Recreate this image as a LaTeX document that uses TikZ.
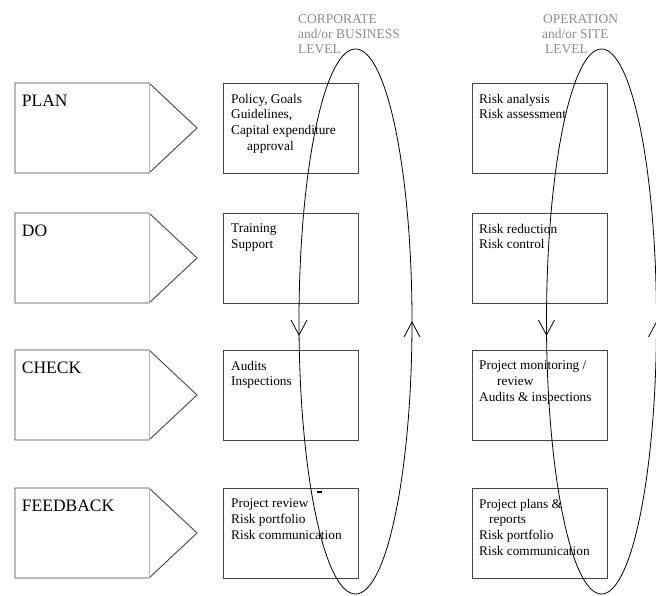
\documentclass[tikz,border=0pt]{standalone}
\usepackage{fontspec}
\setmainfont{Liberation Serif}
\usetikzlibrary{calc,shapes.geometric}

\definecolor{boxline}{HTML}{454545}
\definecolor{divline}{HTML}{B4B4B4}
\definecolor{levelgray}{HTML}{8C8C8C}

\tikzset{
  stage/.style={rectangle, minimum width=134pt, minimum height=90pt, inner sep=0pt, outer sep=0pt},
  stageedge/.style={draw=boxline, line width=0.9pt, line join=miter},
  stagediv/.style={draw=divline, line width=0.9pt},
  infobox/.style={draw=boxline, line width=0.9pt, rectangle, minimum width=135pt, minimum height=90pt, inner sep=0pt, outer sep=0pt},
  boxtext/.style={anchor=north west, inner sep=0pt, align=left, font=\fontsize{13.3}{15.8}\selectfont},
  stagetext/.style={anchor=north west, inner sep=0pt, font=\fontsize{17.5}{20}\selectfont},
  leveltext/.style={anchor=north west, inner sep=0pt, align=left, text=levelgray, font=\fontsize{13.5}{15}\selectfont},
  cycleloop/.style={draw=black, line width=0.8pt, ellipse, inner sep=0pt, outer sep=0pt},
  barb/.style={draw=black, line width=0.8pt},
}

\begin{document}
\begin{tikzpicture}[x=1pt,y=-1pt]
\useasboundingbox (0,0) rectangle (656,595);
\clip (0,0) rectangle (656,595);

% level headings
\node[leveltext] (corplabel) at (298,14.4) {CORPORATE\\and/or BUSINESS\\LEVEL};
\node[leveltext] (oplabel) at (542,14.4) {\hspace*{1pt}OPERATION\\and/or SITE\\\hspace*{3pt}LEVEL};

% PDCA stages (pentagon arrows)
\foreach \nm/\yc/\lbl in {plan/128/PLAN, do/258/DO, check/395/CHECK, feedback/533/FEEDBACK}{
  \node[stage] (\nm) at (82,\yc) {};
  \draw[stageedge] (\nm.north east) -- (\nm.north west) -- (\nm.south west)
        -- (\nm.south east) -- ($(\nm.east)+(48,0)$) -- (\nm.north east);
  \draw[stagediv] (\nm.north east) -- (\nm.south east);
  \node[stagetext] (\nm txt) at ($(\nm.north west)+(6.7,12)$) {\lbl};
}

% corporate / business level boxes
\node[infobox] (cplan) at (290.5,128) {};
\node[infobox] (cdo) at (290.5,258) {};
\node[infobox] (ccheck) at (290.5,395) {};
\node[infobox] (cfeed) at (290.5,533) {};
\node[boxtext] (cplantxt) at ($(cplan.north west)+(8,10.6)$)
  {Policy, Goals\\Guidelines,\\Capital expenditure\\\hspace*{16pt}approval};
\node[boxtext] (cdotxt) at ($(cdo.north west)+(8,10.6)$) {Training\\Support};
\node[boxtext] (cchecktxt) at ($(ccheck.north west)+(8,10.6)$) {Audits\\Inspections};
\node[boxtext] (cfeedtxt) at ($(cfeed.north west)+(8,10.6)$)
  {Project review\\Risk portfolio\\Risk communication};

% operation / site level boxes
\node[infobox] (oplan) at (539.5,128) {};
\node[infobox] (odo) at (539.5,258) {};
\node[infobox] (ocheck) at (539.5,395) {};
\node[infobox] (ofeed) at (539.5,533) {};
\node[boxtext] (oplantxt) at ($(oplan.north west)+(7,10.6)$) {Risk analysis\\Risk assessment};
\node[boxtext] (odotxt) at ($(odo.north west)+(7,10.6)$) {Risk reduction\\Risk control};
\node[boxtext] (ochecktxt) at ($(ocheck.north west)+(7,10.6)$)
  {Project monitoring /\\\hspace*{18pt}review\\Audits \& inspections};
\node[boxtext] (ofeedtxt) at ($(ofeed.north west)+(7,10.6)$)
  {Project plans \&\\\hspace*{10pt}reports\\Risk portfolio\\Risk communication};

% small tick at the top of the feedback box
\draw[line width=2pt] (317,491.5) -- (322,491.5);

% improvement loops
\node[cycleloop, minimum width=113pt, minimum height=545pt] (corploop) at (355.5,321.5) {};
\node[cycleloop, minimum width=110pt, minimum height=545pt] (oploop) at (601.5,321.5) {};

% direction marks on the loops
\foreach \lp in {corploop, oploop}{
  \coordinate (\lp down) at ($(\lp.west)+(0,13.5)$);
  \draw[barb] ($(\lp down)+(-8,-15)$) -- (\lp down) -- ($(\lp down)+(8,-15)$);
  \coordinate (\lp up) at ($(\lp.east)+(0,0.5)$);
  \draw[barb] ($(\lp up)+(-8,15)$) -- (\lp up) -- ($(\lp up)+(8,15)$);
}
\end{tikzpicture}
\end{document}
